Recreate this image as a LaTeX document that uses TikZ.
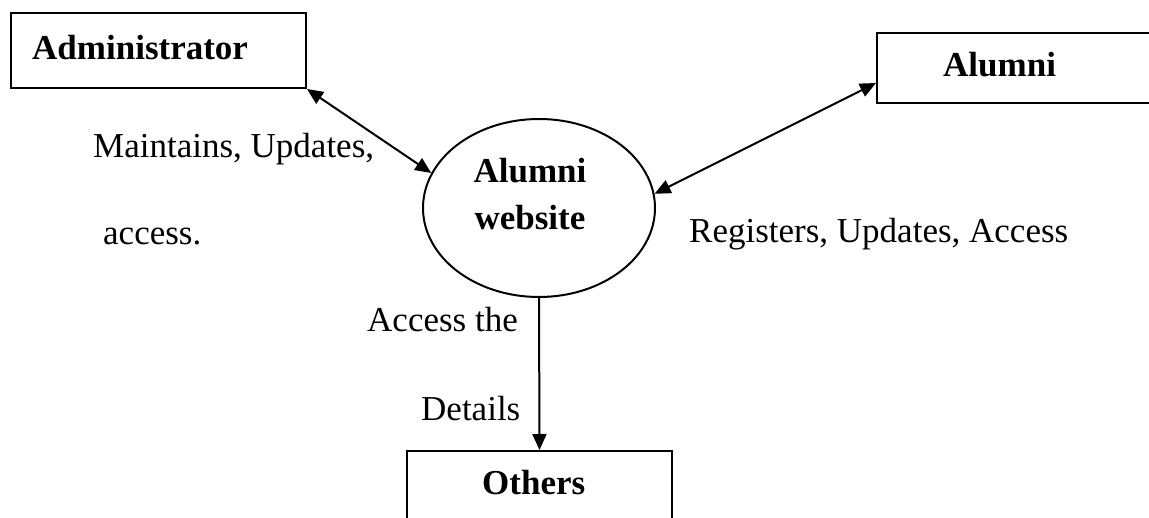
\documentclass[tikz,border=0pt]{standalone}
\usepackage{fontspec}
\setmainfont{Liberation Serif}
\usetikzlibrary{arrows.meta,shapes.geometric}
\begin{document}
\begin{tikzpicture}[x=1pt,y=-1pt,
  >={Triangle[length=16pt,width=14pt]},
  box/.style={draw,line width=2pt,inner sep=0pt},
  txt/.style={inner sep=0pt,anchor=base west,font=\fontsize{35}{42}\selectfont},
  btxt/.style={txt,font=\fontsize{35}{42}\selectfont\bfseries},
  conn/.style={line width=2pt}]
\useasboundingbox (0,0) rectangle (1149,518);
\clip (0,0) rectangle (1149,518);
% entities
\node[box,minimum width=295pt,minimum height=75pt] (admin) at (158.5,50.5) {};
\node[box,minimum width=283pt,minimum height=70pt] (alu) at (1018.5,68) {};
\node[box,minimum width=265pt,minimum height=95pt] (oth) at (539.5,498.5) {};
\node[draw,line width=2pt,ellipse,minimum width=232pt,minimum height=178pt,inner sep=0pt] (web) at (539,208) {};
% entity texts
\node[btxt] (admintxt) at (32,60) {Administrator};
\node[btxt] (alutxt) at (943,77) {Alumni};
\node[btxt] (othtxt) at (482,494) {Others};
\node[btxt,anchor=base] (webtxt1) at (530,183) {Alumni};
\node[btxt,anchor=base] (webtxt2) at (530,230) {website};
% flow labels
\node[txt] (l1) at (93,158) {Maintains, Updates,};
\node[txt] (l2) at (103,245) {access.};
\node[txt] (l3) at (689,243) {Registers, Updates, Access};
\node[txt] (l4) at (367,332) {Access the};
\node[txt] (l5) at (421,421) {Details};
% connectors
\draw[conn,<->] (admin.south east) -- (web.162);
\draw[conn,<->] ([yshift=-15pt]alu.west) -- (web.7);
\draw[conn,->] (web.south) -- (oth.north);
\end{tikzpicture}
\end{document}
